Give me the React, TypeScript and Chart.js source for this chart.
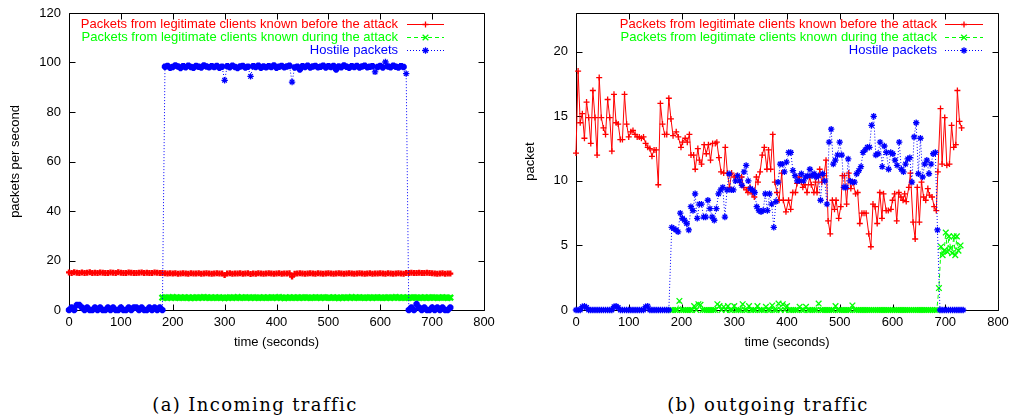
import React, { useEffect, useRef } from "react";
import { Chart, registerables } from "chart.js";

Chart.register(...registerables);

// ---------------- shared labels / colours ----------------
const SERIES_LABELS = [
  "Packets from legitimate clients known before the attack",
  "Packets from legitimate clients known during the attack",
  "Hostile packets",
];
const SERIES_COLORS = ["#ff0000", "#00ff00", "#0000ff"];
const X_TITLE = "time (seconds)";
const CAPTION_A = "(a) Incoming traffic";
const CAPTION_B = "(b) outgoing traffic";

// ---------------- (a) incoming traffic ----------------
const IN_Y_TITLE = "packets per second";
const IN_STEP = 5; // seconds between samples
const IN_RED_START = 0;
const inRedValues = [
  15.2, 15.0, 15.3, 15.1, 14.9, 15.2, 15.0, 15.1, 15.3, 14.9, 15.1, 15.0, 15.2, 15.1, 14.9, 15.0, 15.2, 15.1, 15.0, 15.3,
  15.1, 14.9, 15.0, 15.2, 15.1, 15.0, 14.9, 15.1, 15.2, 15.0, 15.1, 14.9, 15.0, 15.2, 15.1, 15.0, 14.9, 14.8, 14.7, 14.8,
  14.7, 14.8, 14.6, 14.7, 14.8, 14.7, 14.6, 14.8, 14.7, 14.7, 14.8, 14.6, 14.7, 14.8, 14.7, 14.6, 14.7, 14.8, 14.7, 14.7,
  14.1, 14.7, 14.8, 14.6, 14.7, 14.7, 14.8, 14.6, 14.7, 14.8, 14.5, 14.7, 14.6, 14.8, 14.7, 14.6, 14.7, 14.8, 14.7, 14.6,
  14.7, 14.8, 14.6, 14.7, 14.7, 14.8, 13.5, 14.6, 14.7, 14.8, 14.7, 14.6, 14.7, 14.8, 14.7, 14.6, 14.8, 14.7, 14.6, 14.7,
  14.8, 14.7, 14.6, 14.7, 14.8, 14.7, 14.6, 14.7, 14.8, 14.7, 14.6, 14.7, 14.8, 14.7, 14.6, 14.7, 14.8, 14.6, 14.7, 14.7,
  14.8, 14.7, 14.6, 14.8, 14.7, 14.6, 14.7, 14.8, 14.7, 14.6, 14.9, 15.0, 15.1, 14.9, 15.0, 15.1, 14.9, 15.0, 15.1, 14.9,
  14.8, 14.7, 14.6, 14.7, 14.8, 14.6, 14.7, 14.7,
];
const IN_GREEN_START = 180;
const inGreenValues = [
  5.0, 5.1, 4.9, 5.0, 5.2, 4.9, 5.0, 5.1, 4.9, 5.0, 5.1, 4.8, 5.0, 5.1, 4.9, 5.0, 5.2, 5.0, 4.9, 5.1,
  5.0, 4.9, 5.1, 5.0, 4.8, 5.0, 5.1, 4.9, 5.0, 5.2, 4.9, 5.0, 5.1, 5.0, 4.9, 5.1, 5.0, 4.9, 5.0, 5.1,
  4.9, 5.0, 5.1, 5.0, 4.9, 5.2, 5.0, 4.8, 5.0, 5.1, 4.9, 5.0, 5.1, 4.9, 5.0, 5.1, 5.0, 4.9, 5.0, 5.1,
  5.0, 4.9, 5.1, 5.0, 5.0, 4.9, 5.1, 5.0, 4.8, 5.0, 5.1, 4.9, 5.0, 5.2, 4.9, 5.0, 5.1, 5.0, 4.9, 5.0,
  5.1, 4.9, 5.0, 5.1, 5.0, 4.9, 5.0, 5.1, 4.9, 5.0, 5.2, 5.0, 4.9, 5.1, 5.0, 4.9, 5.0, 5.1, 5.0, 4.9,
  5.0, 5.1, 4.9, 5.0, 5.1, 5.0, 4.9, 5.0, 5.1, 5.0, 4.9, 5.0,
];
const IN_BLUE_START = 0;
const inBlueValues = [
  // quiet before the attack (0..180 s)
  0, 1, 0, 2, 2, 1, 0, 1, 0, 0, 1, 0, 1, 0, 0, 1, 0, 1, 0, 0,
  1, 0, 0, 1, 0, 1, 1, 0, 1, 0, 0, 1, 0, 1, 0, 1, 0,
  // attack (185..650 s)
  98.3, 98.6, 97.9, 98.2, 98.8, 98.4, 97.8, 98.5, 98.1, 98.7, 98.2, 97.9, 98.6, 98.3, 98.0, 98.8, 98.4, 98.1, 98.5, 98.2,
  98.6, 97.9, 98.3, 92.8, 98.5, 98.1, 98.7, 98.2, 97.8, 98.4, 98.6, 98.0, 98.3, 94.4, 98.5, 98.2, 98.7, 97.9, 98.4, 98.1,
  98.5, 98.2, 98.8, 97.9, 98.3, 98.6, 98.1, 98.4, 98.7, 92.1, 98.0, 98.3, 97.2, 98.5, 98.2, 98.7, 98.0, 98.4, 98.6, 98.1,
  98.3, 98.7, 98.0, 98.5, 98.2, 98.6, 97.2, 98.4, 98.1, 98.8, 98.3, 97.9, 98.5, 98.2, 98.6, 98.0, 98.4, 98.7, 98.1, 98.3,
  98.5, 96.2, 98.2, 98.6, 98.0, 100.2, 98.4, 98.1, 98.7, 98.3, 98.0, 98.5, 98.2, 95.5,
  // after the attack (655..735 s)
  0, 1, 0, 2.4, 1, 0, 1, 0, 0, 1, 0, 1, 0, 1, 0, 0, 1,
];

// ---------------- (b) outgoing traffic ----------------
const OUT_Y_TITLE = "packet";
const outRedTimes = [
  0, 4, 8, 12, 16, 20, 24, 28, 32, 36, 40, 44, 48, 52, 56, 60, 64, 68, 72, 76,
  80, 84, 88, 92, 96, 100, 104, 108, 112, 116, 120, 124, 128, 132, 136, 140, 144, 148, 152, 156,
  160, 164, 168, 172, 176, 180,
  184, 190, 194, 199, 202, 207, 211, 215, 218, 223,
  226, 231, 234, 238, 243, 247, 251, 255, 259, 264,
  267, 271, 275, 280, 283, 287, 291, 295, 300, 305,
  310, 314, 318, 323, 326, 330, 334, 338, 342, 345,
  349, 353, 357, 362, 365, 369, 373, 377, 381, 385,
  390, 393, 398, 403, 407, 411, 416, 419, 423, 427,
  430, 434, 438, 443, 446, 451, 454, 457, 462, 466,
  470, 474, 478, 482, 486, 490, 493, 498, 502, 505,
  509, 513, 517, 521, 525, 530, 534, 538, 542, 546,
  550, 555, 559, 563, 567, 571, 576, 580, 583, 588,
  592, 597, 600, 604, 608, 612, 616, 620, 623, 626,
  631, 634, 639, 643, 647, 651, 655, 659, 663, 667,
  670, 675, 679, 683, 686, 691, 694, 699, 703, 708,
  712, 716, 720, 723, 727, 731,
];
const outRedValues = [
  12.15, 18.5, 14.5, 15.2, 13.3, 16.1, 14.9, 12.9, 17.0, 14.9, 12.0, 18.0, 14.9, 14.1, 13.6, 16.3, 14.9, 12.3, 16.7, 14.5,
  14.4, 13.2, 13.2, 16.7, 14.4, 13.4, 13.8, 13.9, 13.6, 13.4, 13.4, 13.3, 13.4, 12.9, 12.6, 12.5, 11.9, 12.4, 12.4, 9.7,
  16.0, 14.4, 13.6, 13.6, 16.4, 14.8,
  13.5, 13.8, 13.4, 12.6, 13.0, 13.3, 13.0, 13.6, 12.0, 12.0,
  10.9, 12.5, 11.6, 11.3, 12.8, 12.1, 12.8, 11.6, 12.9, 12.9,
  13.0, 11.8, 10.7, 10.6, 12.6, 10.6, 9.5, 10.6, 10.3, 10.4,
  9.9, 10.3, 9.5, 9.3, 9.1, 9.5, 9.0, 8.75, 10.3, 9.9,
  10.7, 12.0, 12.6, 10.9, 12.4, 10.9, 13.6, 9.9, 9.1, 8.5,
  10.6, 8.5, 7.6, 8.5, 7.8, 9.1, 9.1, 9.8, 10.3, 9.9,
  9.5, 9.7, 9.1, 10.3, 9.7, 9.1, 9.9, 9.1, 10.9, 9.9,
  10.4, 11.6, 6.9, 5.9, 8.5, 7.8, 8.5, 7.1, 8.0, 10.4,
  10.4, 8.2, 10.6, 9.4, 9.9, 9.0, 9.1, 6.7, 7.5, 7.5,
  7.5, 5.9, 4.9, 8.2, 8.0, 6.7, 9.1, 7.1, 9.0, 7.7,
  7.7, 7.8, 8.5, 9.0, 6.9, 9.1, 8.75, 8.5, 9.0, 8.4,
  9.5, 10.6, 6.8, 5.5, 9.5, 6.8, 9.9, 8.75, 8.5, 9.4,
  8.9, 8.75, 8.0, 7.7, 10.7, 15.6, 11.3, 14.9, 11.2, 11.3,
  14.3, 12.6, 12.8, 17.0, 14.6, 14.1,
];
const OUT_STEP = 4;
const OUT_GREEN_START = 180;
const outGreenValues = [
  0, 0, 0, 0, 0.7, 0, 0, 0, 0, 0,
  0, 0.3, 0, 0.45, 0.4, 0, 0, 0, 0, 0,
  0, 0, 0.45, 0.3, 0, 0.25, 0, 0.3, 0, 0,
  0.3, 0, 0, 0, 0.45, 0, 0, 0.3, 0, 0,
  0, 0.3, 0, 0, 0, 0.25, 0, 0, 0.35, 0,
  0, 0.5, 0, 0.45, 0, 0.3, 0, 0, 0, 0,
  0, 0.25, 0, 0, 0.25, 0, 0, 0, 0, 0,
  0.5, 0, 0, 0, 0, 0, 0, 0, 0.3, 0,
  0, 0, 0, 0, 0, 0, 0.35, 0, 0, 0,
  0, 0, 0, 0, 0, 0, 0, 0, 0, 0,
  0, 0, 0, 0, 0, 0, 0, 0, 0, 0,
  0, 0, 0, 0, 0, 0, 0, 0, 0, 0,
  0, 0, 0, 0, 0, 0, 0,
];
const outGreenEndTimes = [688, 692, 695, 698, 701, 704, 707, 710, 713, 716, 719, 722, 725, 729];
const outGreenEndValues = [1.7, 4.9, 4.25, 4.6, 6.0, 4.5, 5.7, 4.8, 4.4, 5.7, 4.25, 5.7, 4.6, 5.0];
const OUT_BLUE_QUIET_START = 0;
const outBlueQuietBefore = [
  0, 0, 0, 0.25, 0.3, 0.2, 0, 0, 0, 0, 0, 0, 0, 0, 0, 0, 0, 0, 0.25, 0.3,
  0.2, 0, 0, 0, 0, 0, 0, 0, 0, 0, 0, 0, 0, 0.25, 0.3, 0, 0, 0, 0, 0,
  0, 0, 0, 0, 0,
];
const OUT_BLUE_ATTACK_START = 181.5;
const OUT_BLUE_ATTACK_STEP = 4.03;
const outBlueAttack = [
  6.4, 6.3, 6.2, 6.05, 7.5, 7.1, 6.95, 6.7, 6.2, 8.0,
  7.7, 9.0, 7.1, 8.2, 8.2, 7.2, 7.2, 8.5, 7.85, 7.2,
  6.95, 7.85, 9.0, 9.3, 9.5, 7.2, 9.3, 10.55, 9.3, 9.3,
  10.0, 10.4, 10.0, 9.65, 10.7, 11.2, 10.0, 9.4, 9.3, 9.1,
  8.0, 7.7, 7.6, 7.7, 9.0, 7.7, 9.0, 8.2, 6.4, 8.4,
  9.9, 11.3, 11.3, 10.7, 11.45, 12.2, 12.2, 10.8, 10.4, 10.0,
  10.0, 10.55, 10.0, 10.3, 10.4, 10.9, 10.4, 10.55, 10.3, 10.4,
  8.5, 10.55, 10.0, 8.2, 13.0, 14.0, 11.3, 11.6, 12.0, 13.0,
  12.0, 9.5, 9.5, 11.7, 10.0, 9.9, 9.9, 10.55, 10.8, 11.1,
  12.2, 12.4, 12.6, 12.6, 14.3, 15.0, 12.0, 12.1, 13.0, 11.1,
  12.7, 12.2, 10.9, 12.2, 12.1, 11.6, 11.2, 13.0, 10.9, 10.7,
  11.3, 11.7, 11.8, 9.9, 13.4, 14.5, 10.55, 13.3, 10.3, 11.3,
  11.6, 10.55, 11.3, 12.1, 12.2, 6.2,
];
const OUT_BLUE_AFTER_START = 690;
const outBlueQuietAfter = [0, 0, 0, 0, 0, 0, 0, 0, 0, 0, 0, 0];

// ---------------- helpers ----------------
type Pt = { x: number; y: number };
const onGrid = (start: number, step: number, values: number[]): Pt[] =>
  values.map((y, i) => ({ x: start + i * step, y }));
const paired = (times: number[], values: number[]): Pt[] =>
  values.map((y, i) => ({ x: times[i], y }));

const FONT_FAMILY = '"Liberation Sans", Arial, Helvetica, sans-serif';
const KEY_MARKER_WIDTH = 1.3;

function drawMarker(ctx: CanvasRenderingContext2D, style: string, x: number, y: number, r: number) {
  ctx.beginPath();
  if (style === "cross" || style === "star") {
    ctx.moveTo(x - r, y);
    ctx.lineTo(x + r, y);
    ctx.moveTo(x, y - r);
    ctx.lineTo(x, y + r);
  }
  if (style === "crossRot" || style === "star") {
    const d = r * Math.SQRT1_2;
    ctx.moveTo(x - d, y - d);
    ctx.lineTo(x + d, y + d);
    ctx.moveTo(x - d, y + d);
    ctx.lineTo(x + d, y - d);
  }
  ctx.stroke();
}

const gnuplotFrame = {
  id: "gnuplotFrame",
  beforeDatasetsDraw(chart: any) {
    const { ctx, chartArea: a, scales } = chart;
    const L = 6;
    ctx.save();
    ctx.strokeStyle = "#000";
    ctx.lineWidth = 1;
    const l = Math.round(a.left) + 0.5;
    const r = Math.round(a.right) + 0.5;
    const t = Math.round(a.top) + 0.5;
    const b = Math.round(a.bottom) + 0.5;
    ctx.beginPath();
    ctx.rect(l, t, r - l, b - t);
    for (const tk of scales.x.ticks) {
      const px = Math.round(scales.x.getPixelForValue(tk.value)) + 0.5;
      ctx.moveTo(px, b);
      ctx.lineTo(px, b - L);
      ctx.moveTo(px, t);
      ctx.lineTo(px, t + L);
    }
    for (const tk of scales.y.ticks) {
      const py = Math.round(scales.y.getPixelForValue(tk.value)) + 0.5;
      ctx.moveTo(l, py);
      ctx.lineTo(l + L, py);
      ctx.moveTo(r, py);
      ctx.lineTo(r - L, py);
    }
    ctx.stroke();
    ctx.restore();
  },
};

const gnuplotKey = {
  id: "gnuplotKey",
  afterDatasetsDraw(chart: any, _args: any, opts: any) {
    const { ctx } = chart;
    ctx.save();
    ctx.font = `13px ${FONT_FAMILY}`;
    ctx.textAlign = "right";
    ctx.textBaseline = "middle";
    chart.data.datasets.forEach((ds: any, i: number) => {
      const y = Math.round(opts.rowY[i]) + 0.5;
      ctx.fillStyle = ds.borderColor;
      ctx.fillText(ds.label, opts.textRight, y);
      ctx.strokeStyle = ds.borderColor;
      ctx.lineWidth = 1;
      ctx.setLineDash(ds.borderDash || []);
      ctx.beginPath();
      ctx.moveTo(opts.sampleLeft, y);
      ctx.lineTo(opts.sampleRight, y);
      ctx.stroke();
      ctx.setLineDash([]);
      ctx.lineWidth = KEY_MARKER_WIDTH;
      drawMarker(ctx, ds.pointStyle, (opts.sampleLeft + opts.sampleRight) / 2, y, ds.keyRadius);
    });
    ctx.restore();
  },
};

// Markers that sit inside a dense band are drawn heavier so that the band reads
// as solid (as in the dense original); isolated outliers keep a thin stroke.
function bandWidth(heavy: number, thin: number) {
  return (c: any) => {
    if (heavy === thin) return thin;
    const d = c.dataset.data as Pt[];
    const i = c.dataIndex;
    const y = d[i] ? d[i].y : 0;
    const prev = i > 0 ? Math.abs(d[i - 1].y - y) : 0;
    const next = i < d.length - 1 ? Math.abs(d[i + 1].y - y) : 0;
    return prev > 1.5 && next > 1.5 ? thin : heavy;
  };
}

function makeDatasets(red: Pt[], green: Pt[], blue: Pt[], markerWidth: number) {
  const base = {
    borderWidth: 1,
    pointBorderWidth: bandWidth(markerWidth, 1.3),
    clip: false as any,
    tension: 0,
    pointHoverRadius: 0,
  };
  return [
    {
      ...base, label: SERIES_LABELS[0], data: red,
      borderColor: SERIES_COLORS[0], backgroundColor: SERIES_COLORS[0], pointBorderColor: SERIES_COLORS[0],
      pointStyle: "cross", pointRadius: 3, keyRadius: 3, order: 3,
    },
    {
      ...base, label: SERIES_LABELS[1], data: green,
      borderColor: SERIES_COLORS[1], backgroundColor: SERIES_COLORS[1], pointBorderColor: SERIES_COLORS[1],
      borderDash: [4, 3], pointStyle: "crossRot", pointRadius: 4, keyRadius: 4, order: 2,
    },
    {
      ...base, label: SERIES_LABELS[2], data: blue,
      borderColor: SERIES_COLORS[2], backgroundColor: SERIES_COLORS[2], pointBorderColor: SERIES_COLORS[2],
      borderDash: [1, 2], pointStyle: "star", pointRadius: 3.2, keyRadius: 3.2, order: 1,
    },
  ];
}

type PanelCfg = {
  datasets: any[];
  yMax: number;
  yStep: number;
  yTitle: string;
  yAxisWidth: number;
  yTitlePad: number;
  padRight: number;
  key: { textRight: number; sampleLeft: number; sampleRight: number; rowY: number[] };
};

function makeConfig(p: PanelCfg): any {
  const tickFont = { family: FONT_FAMILY, size: 13 };
  return {
    type: "line",
    data: { datasets: p.datasets },
    plugins: [gnuplotFrame, gnuplotKey],
    options: {
      animation: false,
      responsive: false,
      devicePixelRatio: 1,
      layout: { padding: { top: 13, right: p.padRight, left: 0, bottom: 0 } },
      plugins: {
        legend: { display: false },
        tooltip: { enabled: false },
        gnuplotKey: p.key,
      },
      events: [],
      scales: {
        x: {
          type: "linear",
          min: 0,
          max: 800,
          grid: { display: false, drawTicks: false },
          border: { display: false },
          ticks: { stepSize: 100, padding: 5, color: "#000", font: tickFont, maxRotation: 0, autoSkip: false, includeBounds: false },
          title: { display: true, text: X_TITLE, color: "#000", font: { ...tickFont, lineHeight: 1.2 }, padding: { top: 0, bottom: 10 } },
          afterFit(scale: any) {
            scale.height = 50;
            scale.paddingLeft = 0;
            scale.paddingRight = 0;
          },
        },
        y: {
          type: "linear",
          min: 0,
          max: p.yMax,
          grid: { display: false, drawTicks: false },
          border: { display: false },
          ticks: { stepSize: p.yStep, padding: 8, color: "#000", font: tickFont, includeBounds: false },
          title: { display: true, text: p.yTitle, color: "#000", font: { ...tickFont, lineHeight: 1.2 }, padding: { top: p.yTitlePad, bottom: 0 } },
          afterFit(scale: any) {
            scale.width = p.yAxisWidth;
            scale.paddingTop = 0;
            scale.paddingBottom = 0;
          },
        },
      },
    },
  };
}

function Panel({ left, width, cfg }: { left: number; width: number; cfg: PanelCfg }) {
  const ref = useRef<HTMLCanvasElement | null>(null);
  useEffect(() => {
    if (!ref.current) return;
    const chart = new Chart(ref.current, makeConfig(cfg));
    return () => chart.destroy();
  }, []);
  return (
    <canvas
      ref={ref}
      width={width}
      height={360}
      style={{ position: "absolute", left, top: 0, width, height: 360, display: "block" }}
    />
  );
}

const captionStyle = (center: number): React.CSSProperties => ({
  position: "absolute",
  left: center - 200,
  width: 400,
  top: 394,
  lineHeight: "22px",
  textAlign: "center",
  fontFamily: '"DejaVu Serif", "Liberation Serif", serif',
  fontSize: 18,
  letterSpacing: "1.4px",
  color: "#000",
  whiteSpace: "nowrap",
});

export default function App() {
  const panelA: PanelCfg = {
    datasets: makeDatasets(
      onGrid(IN_RED_START, IN_STEP, inRedValues),
      onGrid(IN_GREEN_START, IN_STEP, inGreenValues),
      onGrid(IN_BLUE_START, IN_STEP, inBlueValues),
      2.4
    ),
    yMax: 120,
    yStep: 20,
    yTitle: IN_Y_TITLE,
    yAxisWidth: 69,
    yTitlePad: 8,
    padRight: 26,
    key: { textRight: 398, sampleLeft: 407, sampleRight: 444, rowY: [24, 37, 50] },
  };
  const panelB: PanelCfg = {
    datasets: makeDatasets(
      paired(outRedTimes, outRedValues),
      [...onGrid(OUT_GREEN_START, OUT_STEP, outGreenValues), ...paired(outGreenEndTimes, outGreenEndValues)],
      [
        ...onGrid(OUT_BLUE_QUIET_START, OUT_STEP, outBlueQuietBefore),
        ...onGrid(OUT_BLUE_ATTACK_START, OUT_BLUE_ATTACK_STEP, outBlueAttack),
        ...onGrid(OUT_BLUE_AFTER_START, OUT_STEP, outBlueQuietAfter),
      ],
      1.3
    ),
    yMax: 23,
    yStep: 5,
    yTitle: OUT_Y_TITLE,
    yAxisWidth: 66,
    yTitlePad: 13,
    padRight: 24,
    key: { textRight: 427, sampleLeft: 435, sampleRight: 473, rowY: [24, 37, 50] },
  };
  return (
    <div style={{ position: "absolute", left: 0, top: 0, width: 1022, height: 420, background: "#fff", overflow: "hidden" }}>
      <Panel left={0} width={510} cfg={panelA} />
      <Panel left={510} width={512} cfg={panelB} />
      <div style={captionStyle(255)}>{CAPTION_A}</div>
      <div style={captionStyle(768)}>{CAPTION_B}</div>
    </div>
  );
}
